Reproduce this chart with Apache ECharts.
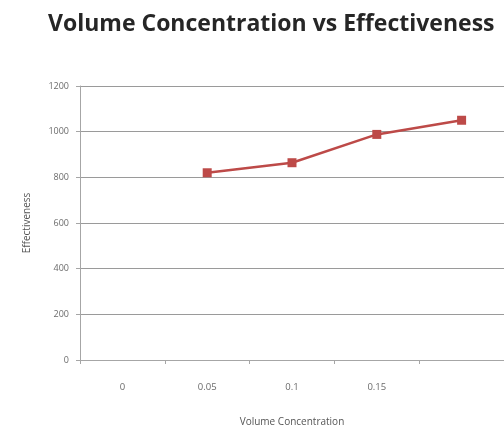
<!DOCTYPE html>
<html>
<head>
<meta charset="utf-8">
<script src="https://cdn.jsdelivr.net/npm/echarts@6/dist/echarts.min.js"></script>
<style>
  html, body { margin: 0; padding: 0; background: #ffffff; }
  #chart { width: 504px; height: 430px; }
</style>
</head>
<body>
<div id="chart"></div>
<script>
// Category labels along the x axis (the last slot has no label)
const categories = ['0', '0.05', '0.1', '0.15', ''];
// Effectiveness for each volume concentration (no reading at 0)
const effectiveness = [null, 820, 864, 988, 1050];
// Value axis range
const yMin = 0;
const yMax = 1200;
const yStep = 200;

const chart = echarts.init(document.getElementById('chart'), null, { renderer: 'canvas' });

const labelColor = '#6b6b6b';
const axisColor = '#a6a6a6';

chart.setOption({
  animation: false,
  backgroundColor: '#ffffff',
  title: {
    text: 'Volume Concentration vs Effectiveness',
    left: 43,
    top: 8,
    textStyle: {
      fontFamily: 'Open Sans',
      fontWeight: 'bold',
      fontSize: 23,
      color: '#262626'
    }
  },
  grid: {
    left: 80,
    right: 0,
    top: 86,
    bottom: 70,
    containLabel: false,
    outerBoundsMode: 'none'
  },
  xAxis: {
    type: 'category',
    data: categories,
    boundaryGap: true,
    name: 'Volume Concentration',
    nameLocation: 'middle',
    nameGap: 57,
    nameTextStyle: { fontFamily: 'Open Sans', fontSize: 10, color: '#555555' },
    axisLine: { show: true, lineStyle: { color: axisColor, width: 1 } },
    axisTick: { show: true, alignWithLabel: false, length: 4, lineStyle: { color: axisColor } },
    axisLabel: { fontFamily: 'Open Sans', fontSize: 9.5, color: labelColor, margin: 22 },
    splitLine: { show: false }
  },
  yAxis: {
    type: 'value',
    min: yMin,
    max: yMax,
    interval: yStep,
    name: 'Effectiveness',
    nameLocation: 'middle',
    nameGap: 48,
    nameRotate: 90,
    nameTextStyle: { fontFamily: 'Open Sans', fontSize: 10, color: '#555555' },
    axisLine: { show: true, lineStyle: { color: axisColor, width: 1 } },
    axisTick: { show: true, length: 4, lineStyle: { color: axisColor } },
    axisLabel: {
      fontFamily: 'Open Sans',
      fontSize: 9,
      color: labelColor,
      margin: 11,
      formatter: v => String(v)
    },
    splitLine: { show: true, lineStyle: { color: '#9a9a9a', width: 1 } }
  },
  series: [{
    type: 'line',
    data: effectiveness,
    connectNulls: false,
    symbol: 'rect',
    symbolSize: 9,
    lineStyle: { color: '#bd4a48', width: 2.5 },
    itemStyle: { color: '#bd4a48' }
  }]
});
</script>
</body>
</html>
